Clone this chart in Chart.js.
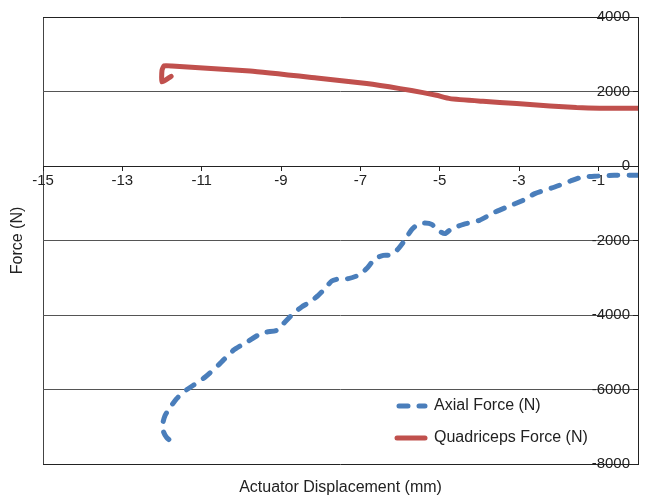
<!DOCTYPE html>
<html>
<head>
<meta charset="utf-8">
<script src="https://cdn.jsdelivr.net/npm/chart.js@4/dist/chart.umd.min.js"></script>
<style>
html,body{margin:0;padding:0;background:#fff;}
#wrap{width:652px;height:496px;position:relative;}
</style>
</head>
<body>
<div id="wrap"><canvas id="c" width="652" height="496"></canvas></div>
<script>
// ---- data ----
const xTickLabels = [-15, -13, -11, -9, -7, -5, -3, -1];
const yTickLabels = [4000, 2000, 0, -2000, -4000, -6000, -8000];

const axialX = [0, -0.6, -1.1, -1.4, -1.7, -2.1, -2.6, -2.9, -3.2, -3.6, -4.0, -4.4, -4.7, -4.87, -5.05, -5.2, -5.37, -5.55, -5.72, -5.88, -6.04, -6.21, -6.42, -6.63, -6.84, -7.05, -7.3, -7.51, -7.72, -7.89, -8.06, -8.27, -8.48, -8.69, -8.9, -9.11, -9.36, -9.53, -9.86, -10.2, -10.54, -10.91, -11.21, -11.46, -11.63, -11.79, -11.92, -11.98, -11.96, -11.88, -11.78];
const axialY = [-250, -250, -277, -295, -403, -564, -741, -921, -1055, -1235, -1458, -1565, -1681, -1815, -1726, -1565, -1530, -1565, -1726, -1995, -2217, -2390, -2400, -2486, -2754, -2934, -3023, -3023, -3087, -3291, -3471, -3651, -3785, -3962, -4188, -4411, -4456, -4510, -4725, -4948, -5305, -5664, -5887, -6067, -6244, -6470, -6693, -6915, -7141, -7291, -7383];

const quadX = [0, -0.97, -1.55, -2.22, -3.06, -3.91, -4.74, -5.08, -5.42, -6.0, -6.84, -8.1, -9.78, -11.75, -11.95, -12.0, -12.0, -11.77];
const quadY = [1549, 1549, 1568, 1611, 1675, 1737, 1809, 1898, 1970, 2078, 2212, 2362, 2550, 2685, 2690, 2570, 2255, 2408];

const seriesNames = ['Axial Force (N)', 'Quadriceps Force (N)'];
const xTitle = 'Actuator Displacement (mm)';
const yTitle = 'Force (N)';

const toPts = (xs, ys) => xs.map((x, i) => ({x: x, y: ys[i]}));
const FONT = "'Liberation Sans', Arial, sans-serif";
const BLUE = '#4A7EBB';
const RED = '#C0504D';
const TEXT = '#222';

const extrasPlugin = {
  id: 'extras',
  afterDraw(chart) {
    const ctx = chart.ctx;
    const area = chart.chartArea;
    const ys = chart.scales.y;
    ctx.save();
    // y tick labels, right-aligned just left of the y axis (which sits at x = 0)
    ctx.fillStyle = TEXT;
    ctx.font = '15px ' + FONT;
    ctx.textAlign = 'right';
    ctx.textBaseline = 'middle';
    const axisX = chart.scales.x.getPixelForValue(0);
    ys.ticks.forEach(t => {
      ctx.fillText(String(t.value), axisX - 8, ys.getPixelForValue(t.value));
    });
    // axis titles
    ctx.font = '16px ' + FONT;
    ctx.textAlign = 'center';
    ctx.fillText(xTitle, (area.left + area.right) / 2, 488);
    ctx.save();
    ctx.translate(18, (area.top + area.bottom) / 2);
    ctx.rotate(-Math.PI / 2);
    ctx.fillText(yTitle, 0, 0);
    ctx.restore();
    // legend
    const ds = chart.data.datasets;
    const rows = [406, 438];
    ds.forEach((d, i) => {
      const y = rows[i];
      ctx.beginPath();
      ctx.strokeStyle = d.borderColor;
      ctx.lineWidth = d.borderWidth;
      ctx.lineCap = d.borderCapStyle || 'butt';
      ctx.setLineDash(d.borderDash || []);
      ctx.moveTo(i === 0 ? 399 : 397, y);
      ctx.lineTo(425, y);
      ctx.stroke();
      ctx.setLineDash([]);
      ctx.fillStyle = TEXT;
      ctx.font = '16px ' + FONT;
      ctx.textAlign = 'left';
      ctx.textBaseline = 'middle';
      ctx.fillText(d.label, 434, y);
    });
    ctx.restore();
  }
};

new Chart(document.getElementById('c'), {
  type: 'scatter',
  data: {
    datasets: [
      {
        label: seriesNames[0],
        data: toPts(axialX, axialY),
        showLine: true,
        borderColor: BLUE,
        backgroundColor: BLUE,
        borderWidth: 5,
        borderDash: [9, 11],
        borderCapStyle: 'round',
        borderJoinStyle: 'round',
        pointRadius: 0,
        tension: 0.2
      },
      {
        label: seriesNames[1],
        data: toPts(quadX, quadY),
        showLine: true,
        borderColor: RED,
        backgroundColor: RED,
        borderWidth: 5,
        borderCapStyle: 'round',
        borderJoinStyle: 'round',
        pointRadius: 0,
        tension: 0.15
      }
    ]
  },
  options: {
    responsive: false,
    animation: false,
    layout: {padding: {left: 43, top: 17, right: 14, bottom: 32}},
    plugins: {legend: {display: false}, tooltip: {enabled: false}},
    scales: {
      x: {
        type: 'linear',
        min: -15, max: 0,
        position: {y: 0},
        afterBuildTicks: s => { s.ticks = xTickLabels.map(v => ({value: v})); },
        border: {display: true, color: '#222', width: 1},
        grid: {
          drawOnChartArea: true,
          color: c => (c.tick && c.tick.value === -15) ? '#444' : 'rgba(0,0,0,0)',
          tickColor: '#222',
          tickLength: 4,
          lineWidth: 1
        },
        ticks: {
          color: TEXT,
          font: {family: FONT, size: 15},
          padding: 2,
          maxRotation: 0,
          autoSkip: false
        }
      },
      y: {
        type: 'linear',
        min: -8000, max: 4000,
        position: {x: 0},
        afterBuildTicks: s => { s.ticks = yTickLabels.map(v => ({value: v})); },
        border: {display: true, color: '#222', width: 1},
        grid: {
          color: c => (c.tick && (c.tick.value === 4000 || c.tick.value === -8000)) ? '#222' : '#555',
          tickColor: '#222',
          tickLength: 5,
          lineWidth: 1
        },
        ticks: {
          display: false,
          autoSkip: false
        }
      }
    }
  },
  plugins: [extrasPlugin]
});
</script>
</body>
</html>
